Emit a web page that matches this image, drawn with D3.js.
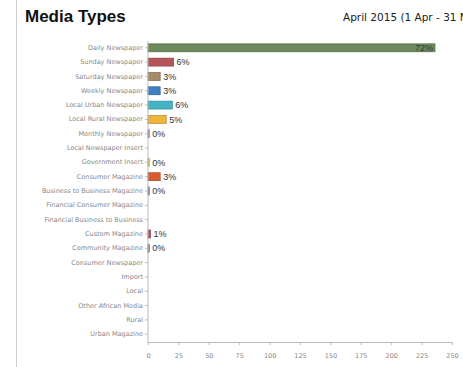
<!DOCTYPE html>
<html lang="en">
<head>
<meta charset="UTF-8">
<title>Media Types</title>
<script src="https://d3js.org/d3.v7.min.js"></script>
<style>
  body { margin: 0; background: #fff; overflow: hidden; }
  .title { font-family: "Liberation Sans", Arial, sans-serif; font-weight: bold; font-size: 17px; fill: #111; }
  .subtitle { font-family: "DejaVu Sans", sans-serif; font-size: 10.5px; fill: #222; }
  .cat { font-family: "DejaVu Sans", sans-serif; font-size: 7.2px; fill: #8a8a8a; }
  .axis text { font-family: "DejaVu Sans", sans-serif; font-size: 6.5px; fill: #888; }
  .axis path, .axis line { stroke: #bbb; }
  .pct { font-family: "Liberation Sans", Arial, sans-serif; font-size: 9px; fill: #333; }
</style>
</head>
<body>
<div id="chart"></div>
<script>
const categories = [
  "Daily Newspaper", "Sunday Newspaper", "Saturday Newspaper", "Weekly Newspaper",
  "Local Urban Newspaper", "Local Rural Newspaper", "Monthly Newspaper",
  "Local Newspaper Insert", "Government Insert", "Consumer Magazine",
  "Business to Business Magazine", "Financial Consumer Magazine",
  "Financial Business to Business", "Custom Magazine", "Community Magazine",
  "Consumer Newspaper", "Import", "Local", "Other African Media", "Rural", "Urban Magazine"
];
const values = [236, 21, 10, 10, 20, 15, 1, 0, 1, 10, 1, 0, 0, 2, 1, 0, 0, 0, 0, 0, 0];
const pctLabels = ["72%", "6%", "3%", "3%", "6%", "5%", "0%", "", "0%", "3%", "0%", "", "", "1%", "0%", "", "", "", "", "", ""];
const colors = ["#6e8a5c", "#b5545a", "#a98a68", "#3e80c3", "#45b3c4", "#eeb43c", "#8f9db5", "#999",
  "#c9d24e", "#d95b31", "#6d8bc0", "#999", "#999", "#b84a6c", "#7484b2", "#999", "#999", "#999", "#999", "#999", "#999"];
const ticks = [0, 25, 50, 75, 100, 125, 150, 175, 200, 225, 250];

const W = 463, H = 367;
const svg = d3.select("#chart").append("svg").attr("width", W).attr("height", H);

// left frame line
svg.append("line").attr("x1", 16.5).attr("x2", 16.5).attr("y1", 0).attr("y2", H)
  .attr("stroke", "#ccc");

svg.append("text").attr("class", "title").attr("x", 25).attr("y", 22).text("Media Types");
svg.append("text").attr("class", "subtitle").attr("x", 343).attr("y", 21).text("April 2015 (1 Apr - 31 Mar 2016)");

const x = d3.scaleLinear().domain([0, 250]).range([148, 452]);
const y = d3.scaleBand().domain(categories).range([41, 341]).paddingInner(0.45).paddingOuter(0.2);

// bars
svg.selectAll("rect.bar").data(categories).enter().append("rect")
  .attr("class", "bar")
  .attr("x", x(0))
  .attr("y", d => y(d))
  .attr("width", (d, i) => Math.max(0, x(values[i]) - x(0)))
  .attr("height", y.bandwidth())
  .attr("fill", (d, i) => colors[i])
  .attr("stroke", (d, i) => d3.color(colors[i]).darker(0.6))
  .attr("stroke-width", (d, i) => values[i] > 0 ? 0.8 : 0);

// percentage labels
svg.selectAll("text.pct").data(categories).enter().append("text")
  .attr("class", "pct")
  .attr("x", (d, i) => i === 0 ? x(values[i]) - 2 : x(values[i]) + 3)
  .attr("y", d => y(d) + y.bandwidth() / 2 + 3.2)
  .attr("text-anchor", (d, i) => i === 0 ? "end" : "start")
  .attr("fill", (d, i) => i === 0 ? "#2a3322" : "#333")
  .text((d, i) => pctLabels[i]);

// y axis (category labels)
const yAxis = svg.append("g").attr("class", "axis")
  .attr("transform", `translate(${x(0)},0)`)
  .call(d3.axisLeft(y).tickSize(3).tickPadding(2));
yAxis.selectAll("text").attr("class", "cat");
yAxis.select(".domain").attr("d", `M0,41V342`);

// x axis
const xAxis = svg.append("g").attr("class", "axis")
  .attr("transform", "translate(0,342)")
  .call(d3.axisBottom(x).tickValues(ticks).tickSize(3).tickPadding(8));
</script>
</body>
</html>
